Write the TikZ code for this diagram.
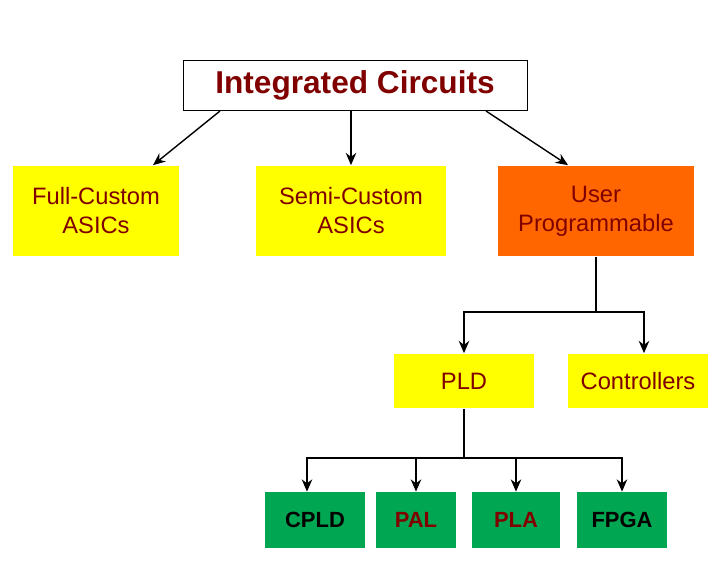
\documentclass[tikz,border=0pt]{standalone}
\usepackage{fontspec}
\setmainfont{Liberation Sans}
\definecolor{DarkRed}{RGB}{128, 0, 0}
\definecolor{BoxYellow}{RGB}{255, 255, 0}
\definecolor{BoxOrange}{RGB}{255, 102, 0}
\definecolor{BoxGreen}{RGB}{0, 166, 81}
\usetikzlibrary{arrows.meta, positioning}

\begin{document}
\begin{tikzpicture}[x=0.02cm, y=-0.02cm,
        title/.style={rectangle, draw, fill=white, minimum width=6.88cm, minimum height=1.0cm, font=\fontsize{18}{20}\selectfont\bfseries, text=DarkRed},
        block/.style={rectangle, fill=BoxYellow, minimum height=1.82cm, align=center, font=\fontsize{13.5}{16.5}\selectfont, text=DarkRed},
        small/.style={rectangle, fill=BoxYellow, minimum height=1.1cm, font=\fontsize{13.5}{16}\selectfont, text=DarkRed},
        leaf/.style={rectangle, fill=BoxGreen, minimum height=1.12cm, font=\fontsize{12.5}{14}\selectfont\bfseries},
        arrow/.style={thick,-{Stealth[length=7pt,width=6pt]}},
        line/.style={thick}
    ]
        \useasboundingbox (0,0) rectangle (721,580);

        \node[title] (ic) at (355,85) {Integrated Circuits};
        \node[block, minimum width=3.32cm] (full) at (96,211) {Full-Custom\\ASICs};
        \node[block, minimum width=3.8cm] (semi) at (351,211) {Semi-Custom\\ASICs};
        \node[block, fill=BoxOrange, minimum width=3.92cm] (user) at (596,211) {User\\Programmable};
        \node[small, minimum width=2.8cm] (pld) at (464,381) {PLD};
        \node[small, minimum width=2.8cm] (ctrl) at (638,381) {Controllers};
        \node[leaf, minimum width=2.02cm] (cpld) at (315,520) {CPLD};
        \node[leaf, minimum width=1.6cm, text=DarkRed] (pal) at (416,520) {PAL};
        \node[leaf, minimum width=1.76cm, text=DarkRed] (pla) at (516,520) {PLA};
        \node[leaf, minimum width=1.8cm] (fpga) at (622,520) {FPGA};

        \coordinate (j1) at (596,312);
        \coordinate (j2) at (464,458);

        \draw[arrow] (220,111) -- (full.north -| 153,0);
        \draw[arrow] (ic.south -| semi) -- (semi);
        \draw[arrow] (486,111) -- (user.north -| 568,0);

        \draw[line] (user) -- (j1);
        \draw[arrow] (j1) -| (pld);
        \draw[arrow] (j1) -| (ctrl.north -| 644,0);

        \draw[line] (pld) -- (j2);
        \draw[arrow] (j2) -| (cpld.north -| 307,0);
        \draw[arrow] (j2) -| (pal);
        \draw[arrow] (j2) -| (pla);
        \draw[arrow] (j2) -| (fpga);
\end{tikzpicture}
\end{document}
